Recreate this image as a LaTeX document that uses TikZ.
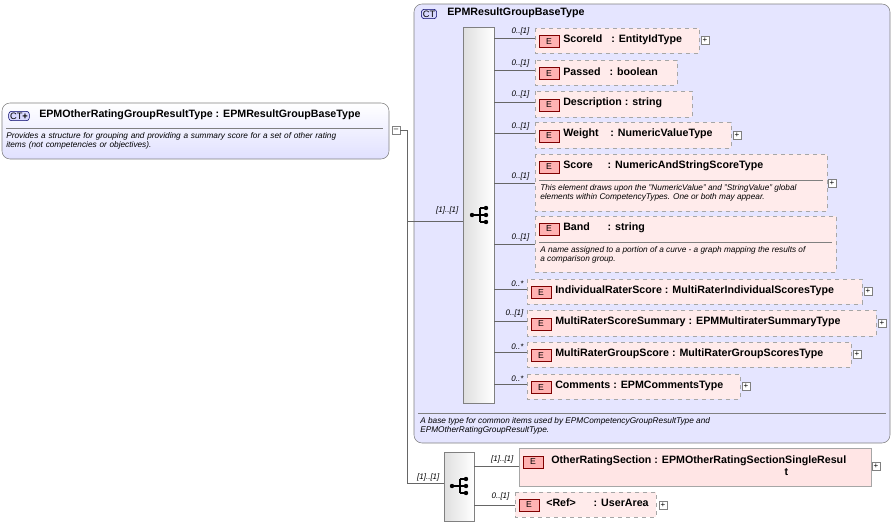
\documentclass[tikz,border=0pt]{standalone}
\usepackage{fontspec}
\setmainfont{Liberation Sans}
\begin{document}
\begin{tikzpicture}[x=0.75pt,y=-0.75pt,font=\fontsize{7.5}{8.5}\selectfont,
 el/.style={draw=gray!70,dashed,fill=red!8},
 elsolid/.style={draw=gray!70,fill=red!10},
 ebadge/.style={draw=red!50!black,fill=red!30,minimum width=15pt,minimum height=9pt,inner sep=0pt,font=\fontsize{6.5}{6.5}\selectfont},
 card/.style={font=\itshape\fontsize{6}{7}\selectfont,anchor=south east,inner sep=1pt},
 pl/.style={draw=gray,fill=white,minimum size=6pt,inner sep=0pt,font=\fontsize{6}{6}\selectfont},
 doc/.style={font=\itshape\fontsize{6.2}{7}\selectfont,anchor=north west,inner sep=0pt,align=left},
 lbl/.style={anchor=west,font=\bfseries\fontsize{8}{9}\selectfont,inner sep=0pt},
 ln/.style={draw=gray!80!black,line width=0.4pt}]
\useasboundingbox (0,0) rectangle (895,525);
\newcommand\seqicon[1]{%
 \begin{scope}[shift={(#1)}]
  \fill (-8,0) circle (2.2); \draw[line width=0.8pt] (-8,0) -- (0,0) (0,-7) -- (0,7) (0,-7) -- (6,-7) (0,0) -- (6,0) (0,7) -- (6,7);
  \fill (6,-7) circle (2.2) (6,0) circle (2.2) (6,7) circle (2.2);
 \end{scope}}
% main CT
\draw[draw=gray,rounded corners=6pt,top color=white,bottom color=blue!12] (2,103) rectangle (389,159);
\node[draw=blue!40!black,fill=blue!15,rounded corners=2pt,inner sep=1pt,font=\fontsize{7}{7}\selectfont] (ct1) at (19,116) {CT\textbf{+}};
\node[lbl] (t1) at (39,115) {EPMOtherRatingGroupResultType : EPMResultGroupBaseType};
\draw[gray] (6,128) -- (383,128);
\node[doc,text width=262pt] (d1) at (6,132) {Provides a structure for grouping and providing a summary score for a set of other rating\\items (not competencies or objectives).};
\node[pl] (m1) at (396,130) {--};
\draw[ln] (m1.east) -- (407,130) -- (407,483);
% base CT
\draw[draw=gray,rounded corners=6pt,fill=blue!10] (414,4) rectangle (890,443);
\node[draw=blue!40!black,fill=blue!15,rounded corners=2pt,inner sep=1pt,font=\fontsize{7}{7}\selectfont] (ct2) at (429,14) {CT};
\node[lbl] (t2) at (447,13) {EPMResultGroupBaseType};
\draw[gray] (418,413) -- (886,413);
\node[doc] (d2) at (420,417) {A base type for common items used by EPMCompetencyGroupResultType and\\EPMOtherRatingGroupResultType.};
% sequence bar
\draw[draw=gray,left color=gray!25,right color=white] (463,27) rectangle (494,403);
\seqicon{480,215}
\draw[ln] (407,221) -- (463,221);
\node[card] at (460,216) {[1]..[1]};
% elements
\foreach \n/\lab/\x/\ya/\xb/\yb/\pl in {
 a/{ScoreId\ \ \ : EntityIdType}/535/28/699/53/1,
 b/{Passed\ \ \ : boolean}/535/60/677/85/0,
 c/{Description : string}/535/91/692/117/0,
 d/{Weight\ \ \ \ : NumericValueType}/535/122/731/148/1,
 g/{IndividualRaterScore : MultiRaterIndividualScoresType}/527/279/862/304/1,
 h/{MultiRaterScoreSummary : EPMMultiraterSummaryType}/527/310/876/336/1,
 i/{MultiRaterGroupScore : MultiRaterGroupScoresType}/527/342/851/367/1,
 j/{Comments : EPMCommentsType}/527/374/740/399/1}{
 \draw[el] (\x,\ya) rectangle (\xb,\yb);
 \node[ebadge] (e\n) at (\x+14,{(\ya+\yb)/2+1}) {E};
 \node[lbl] (l\n) at (\x+28,{(\ya+\yb)/2-1}) {\lab};
 \draw[ln] (494,{(\ya+\yb)/2-2}) -- (\x,{(\ya+\yb)/2-2});
 \ifnum\pl=1 \node[pl] at (\xb+6,{(\ya+\yb)/2}) {+};\fi
}
\foreach \y/\c in {37/0..[1],69/0..[1],100/0..[1],132/0..[1]}
 \node[card] at (531,\y) {\c};
\foreach \y/\c in {288/0..*,319/0..[1],351/0..*,383/0..*}
 \node[card] at (525,\y) {\c};
% Score
\draw[el] (535,154) rectangle (827,211);
\node[ebadge] (ee) at (549,167) {E};
\node[lbl] (le) at (563,166) {Score\ \ \ \ \ : NumericAndStringScoreType};
\draw[gray] (539,180) -- (823,180);
\node[doc] at (540,184) {This element draws upon the "NumericValue" and "StringValue" global\\elements within CompetencyTypes. One or both may appear.};
\node[pl] at (832,183) {+};
\draw[ln] (494,183) -- (535,183); \node[card] at (531,182) {0..[1]};
% Band
\draw[el] (535,216) rectangle (836,272);
\node[ebadge] (ef) at (549,229) {E};
\node[lbl] (lf) at (563,228) {Band\ \ \ \ \ \ : string};
\draw[gray] (539,242) -- (832,242);
\node[doc] at (540,246) {A name assigned to a portion of a curve - a graph mapping the results of\\a comparison group.};
\draw[ln] (494,244) -- (535,244); \node[card] at (531,243) {0..[1]};
% bottom sequence
\draw[draw=gray,left color=gray!25,right color=white] (444,452) rectangle (474,521);
\seqicon{460,486}
\draw[ln] (407,483) -- (444,483); \node[card] at (441,483) {[1]..[1]};
\draw[elsolid] (519,448) rectangle (871,486);
\node[ebadge] at (533,462) {E};
\node[anchor=north west,font=\bfseries\fontsize{8}{9.5}\selectfont,align=left,inner sep=0pt] at (551,455) {OtherRatingSection : EPMOtherRatingSectionSingleResul\\\hspace*{175pt}t};
\node[pl] at (876,466) {+};
\draw[ln] (474,466) -- (519,466); \node[card] at (515,465) {[1]..[1]};
\draw[el] (515,492) rectangle (656,517);
\node[ebadge] at (529,505) {E};
\node[lbl] at (546,503) {<Ref>\ \ \ \ \ \ : UserArea};
\node[pl] at (663,505) {+};
\draw[ln] (474,505) -- (515,505); \node[card] at (511,502) {0..[1]};
\end{tikzpicture}
\end{document}
